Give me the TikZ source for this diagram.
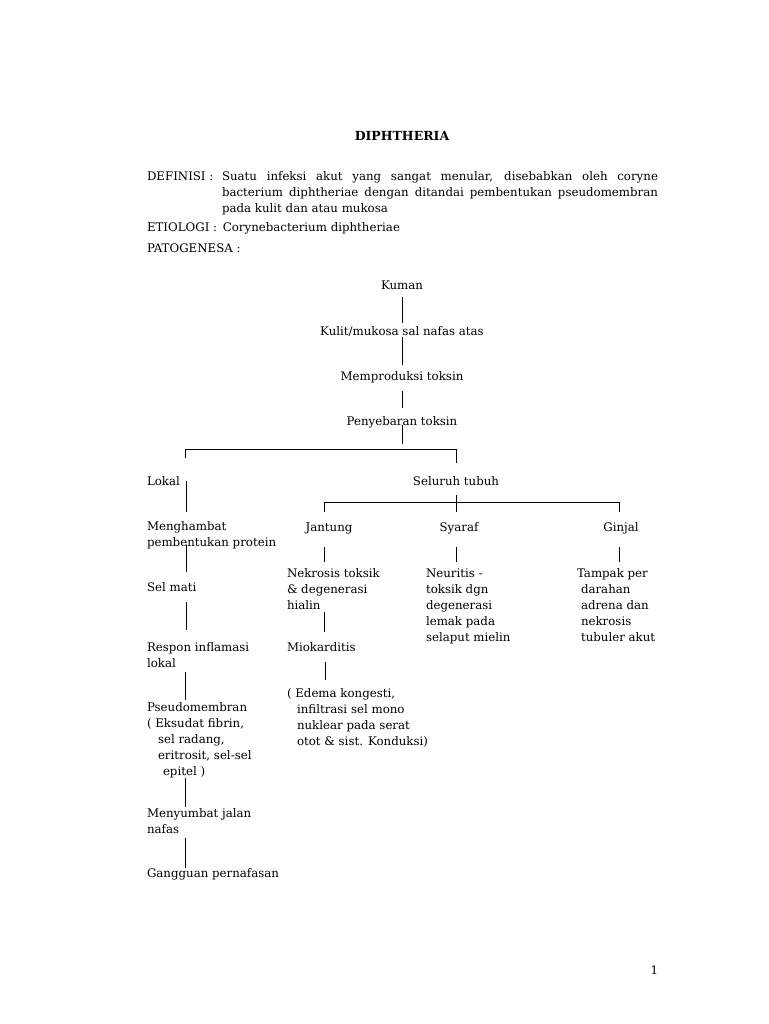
\documentclass[tikz,border=0pt]{standalone}
\usepackage{fontspec}
\setmainfont{DejaVu Serif}
\begin{document}
\begin{tikzpicture}[x=1pt,y=-1pt,
  every node/.style={inner sep=0pt, outer sep=0pt, font=\fontsize{11.8}{16}\selectfont},
  txt/.style={anchor=base west, align=left},
  ctr/.style={anchor=base},
  conn/.style={line width=1pt, line cap=butt}]
\useasboundingbox (0,0) rectangle (768,1024);
\fill[white] (0,0) rectangle (768,1024);

% header (multi-line nodes are placed by the baseline of their last line)
\node[ctr, font=\fontsize{12.5}{16}\selectfont\bfseries] (title) at (402,141) {DIPHTHERIA};
\node[txt] (defl) at (147,181) {DEFINISI :};
\node[txt] (deft) at (222,213) {\makebox[436pt][s]{Suatu infeksi akut yang sangat menular, disebabkan oleh coryne}\\
\makebox[436pt][s]{bacterium diphtheriae dengan ditandai pembentukan pseudomembran}\\
pada kulit dan atau mukosa};
\node[txt] (etio) at (147,232) {ETIOLOGI :\, Corynebacterium diphtheriae};
\node[txt] (pato) at (147,252) {PATOGENESA :};

% main chain
\node[ctr] (kuman) at (402,289) {Kuman};
\node[ctr] (kulit) at (402,335) {Kulit/mukosa sal nafas atas};
\node[ctr] (memprod) at (402,380) {Memproduksi toksin};
\node[ctr] (penyeb) at (402,425) {Penyebaran toksin};

\coordinate (hL) at (185,449);
\coordinate (hR) at (456,449);

% left column
\node[txt] (lokal) at (147,485) {Lokal};
\node[txt] (mengh) at (147,546) {Menghambat\\pembentukan protein};
\node[txt] (selmati) at (147,591) {Sel mati};
\node[txt] (respon) at (147,667) {Respon inflamasi\\lokal};
\node[txt] (pseudo) at (147,775) {Pseudomembran\\( Eksudat fibrin,\\\hspace*{11pt}sel radang,\\\hspace*{11pt}eritrosit, sel-sel\\\hspace*{16pt}epitel )};
\node[txt] (menyum) at (147,833) {Menyumbat jalan\\nafas};
\node[txt] (gangg) at (147,877) {Gangguan pernafasan};

% right part
\node[ctr] (seluruh) at (456,485) {Seluruh tubuh};
\coordinate (jL) at (324,502);
\coordinate (jR) at (619,502);
\node[ctr] (jantung) at (329,531) {Jantung};
\node[ctr] (syaraf) at (459,531) {Syaraf};
\node[ctr] (ginjal) at (621,531) {Ginjal};
\node[txt] (nekrosis) at (287,609) {Nekrosis toksik\\\& degenerasi\\hialin};
\node[txt] (neuritis) at (426,641) {Neuritis -\\toksik dgn\\degenerasi\\lemak pada\\selaput mielin};
\node[txt] (tampak) at (577,641) {Tampak per\\\hspace*{4pt}darahan\\\hspace*{4pt}adrena dan\\\hspace*{4pt}nekrosis\\\hspace*{4pt}tubuler akut};
\node[txt] (miokard) at (287,651) {Miokarditis};
\node[txt] (edema) at (287,745) {( Edema kongesti,\\\hspace*{10pt}infiltrasi sel mono\\\hspace*{10pt}nuklear pada serat\\\hspace*{10pt}otot \& sist. Konduksi)};

\node[anchor=base east] (pnum) at (658,974) {1};

% connectors: main chain
\draw[conn] ([yshift=-8pt]kuman.base) -- ([yshift=12pt]kulit.base);
\draw[conn] ([yshift=-2pt]kulit.base) -- ([yshift=15pt]memprod.base);
\draw[conn] ([yshift=-11pt]memprod.base) -- ([yshift=17pt]penyeb.base);
\draw[conn] (penyeb.base) -- ++(0,19);
\draw[conn] ([yshift=-9pt]hL) -- (hL) -- (hR) -- ([yshift=-14pt]hR);

% left column connectors
\draw[conn] ([xshift=39pt,yshift=4pt]lokal.base west) -- ([xshift=39pt,yshift=34pt]mengh.base west);
\draw[conn] ([xshift=39pt,yshift=1pt]mengh.base west) -- ([xshift=39pt,yshift=19pt]selmati.base west);
\draw[conn] ([xshift=39pt,yshift=-11pt]selmati.base west) -- ([xshift=39pt,yshift=37pt]respon.base west);
\draw[conn] ([xshift=38pt,yshift=-5pt]respon.base west) -- ([xshift=38pt,yshift=75pt]pseudo.base west);
\draw[conn] ([xshift=38pt,yshift=-3pt]pseudo.base west) -- ([xshift=38pt,yshift=26pt]menyum.base west);
\draw[conn] ([xshift=38pt,yshift=-5pt]menyum.base west) -- ([xshift=38pt,yshift=9pt]gangg.base west);

% right connectors
\draw[conn] ([yshift=-10pt]seluruh.base) -- ++(0,17);
\draw[conn] ([yshift=-10pt]jL) -- (jL) -- (jR) -- ([yshift=-10pt]jR);
\draw[conn] ([xshift=-5pt,yshift=-16pt]jantung.base) -- ([xshift=37pt,yshift=47pt]nekrosis.base west);
\draw[conn] ([xshift=-3pt,yshift=-16pt]syaraf.base) -- ([xshift=30pt,yshift=79pt]neuritis.base west);
\draw[conn] ([xshift=-2pt,yshift=-16pt]ginjal.base) -- ([xshift=42pt,yshift=79pt]tampak.base west);
\draw[conn] ([xshift=37pt,yshift=-3pt]nekrosis.base west) -- ([xshift=37pt,yshift=19pt]miokard.base west);
\draw[conn] ([xshift=38pt,yshift=-11pt]miokard.base west) -- ([xshift=38pt,yshift=65pt]edema.base west);
\end{tikzpicture}
\end{document}
